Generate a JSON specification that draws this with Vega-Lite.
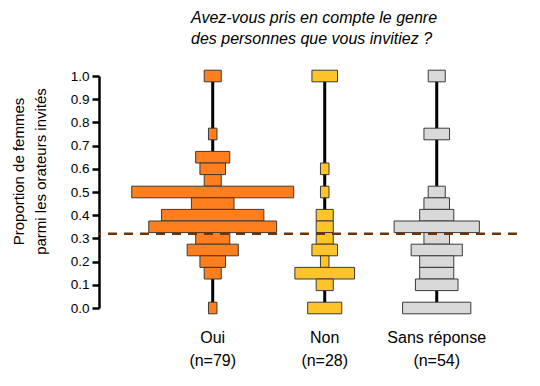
{
  "$schema": "https://vega.github.io/schema/vega-lite/v6.json",
  "autosize": "none",
  "width": 418,
  "height": 232,
  "padding": {"left": 99, "top": 76, "right": 23, "bottom": 78},
  "background": "white",
  "config": {
    "font": "Liberation Sans",
    "view": {"stroke": null}
  },
  "title": {
    "text": ["Avez-vous pris en compte le genre", "des personnes que vous invitiez ?"],
    "fontStyle": "italic",
    "fontWeight": "normal",
    "fontSize": 16,
    "lineHeight": 21.5,
    "color": "#000000",
    "anchor": "start",
    "frame": "group",
    "dx": 92,
    "offset": 22
  },
  "datasets": {
    "hist": [
      {"group": "Oui", "v": 1.0, "n": 2},
      {"group": "Oui", "v": 0.75, "n": 1},
      {"group": "Oui", "v": 0.65, "n": 4},
      {"group": "Oui", "v": 0.6, "n": 3},
      {"group": "Oui", "v": 0.55, "n": 2},
      {"group": "Oui", "v": 0.5, "n": 19},
      {"group": "Oui", "v": 0.45, "n": 5},
      {"group": "Oui", "v": 0.4, "n": 12},
      {"group": "Oui", "v": 0.35, "n": 15},
      {"group": "Oui", "v": 0.3, "n": 4},
      {"group": "Oui", "v": 0.25, "n": 6},
      {"group": "Oui", "v": 0.2, "n": 3},
      {"group": "Oui", "v": 0.15, "n": 2},
      {"group": "Oui", "v": 0.0, "n": 1},
      {"group": "Non", "v": 1.0, "n": 3},
      {"group": "Non", "v": 0.6, "n": 1},
      {"group": "Non", "v": 0.5, "n": 1},
      {"group": "Non", "v": 0.4, "n": 2},
      {"group": "Non", "v": 0.35, "n": 2},
      {"group": "Non", "v": 0.3, "n": 2},
      {"group": "Non", "v": 0.25, "n": 3},
      {"group": "Non", "v": 0.2, "n": 1},
      {"group": "Non", "v": 0.15, "n": 7},
      {"group": "Non", "v": 0.1, "n": 2},
      {"group": "Non", "v": 0.0, "n": 4},
      {"group": "Sans réponse", "v": 1.0, "n": 2},
      {"group": "Sans réponse", "v": 0.75, "n": 3},
      {"group": "Sans réponse", "v": 0.5, "n": 2},
      {"group": "Sans réponse", "v": 0.45, "n": 3},
      {"group": "Sans réponse", "v": 0.4, "n": 4},
      {"group": "Sans réponse", "v": 0.35, "n": 10},
      {"group": "Sans réponse", "v": 0.3, "n": 3},
      {"group": "Sans réponse", "v": 0.25, "n": 6},
      {"group": "Sans réponse", "v": 0.2, "n": 4},
      {"group": "Sans réponse", "v": 0.15, "n": 4},
      {"group": "Sans réponse", "v": 0.1, "n": 5},
      {"group": "Sans réponse", "v": 0.0, "n": 8}
    ],
    "ref": [{"prop": 0.32}]
  },
  "layer": [
    {
      "data": {"name": "hist"},
      "mark": {"type": "rule", "color": "#000000", "strokeWidth": 3},
      "encoding": {
        "x": {
          "field": "group",
          "type": "nominal",
          "sort": ["Oui", "Non", "Sans réponse"],
          "scale": {"domain": ["Oui", "Non", "Sans réponse"], "paddingInner": 0, "paddingOuter": 0.366, "align": 0.704},
          "axis": {
            "title": null,
            "domain": false,
            "ticks": false,
            "tickSize": 0,
            "labelAngle": 0,
            "labelFontSize": 16,
            "labelColor": "#000000",
            "labelPadding": 21,
            "labelBaseline": "top",
            "labelLineHeight": 23,
            "labelExpr": "datum.value === 'Oui' ? ['Oui', '(n=79)'] : datum.value === 'Non' ? ['Non', '(n=28)'] : ['Sans réponse', '(n=54)']"
          }
        },
        "y": {
          "aggregate": "min",
          "field": "v",
          "type": "quantitative",
          "scale": {"domain": [0, 1], "nice": false, "zero": false},
          "axis": {
            "title": ["Proportion de femmes", "parmi les orateurs invités"],
            "titleFontSize": 15,
            "titleFontWeight": "normal",
            "titleColor": "#000000",
            "titleLineHeight": 21.5,
            "titlePadding": 22,
            "titleY": 95,
            "values": [0, 0.1, 0.2, 0.3, 0.4, 0.5, 0.6, 0.7, 0.8, 0.9, 1.0],
            "tickCount": 11,
            "format": ".1f",
            "labelFontSize": 13.5,
            "labelColor": "#000000",
            "labelPadding": 3,
            "tickSize": 7,
            "tickWidth": 2.5,
            "tickColor": "#000000",
            "domainColor": "#000000",
            "domainWidth": 2.5,
            "grid": false,
            "labelFlush": false,
            "labelOverlap": false
          }
        },
        "y2": {"aggregate": "max", "field": "v"}
      }
    },
    {
      "data": {"name": "hist"},
      "mark": {"type": "tick", "orient": "horizontal", "thickness": 11.6, "stroke": "#3a3a3a", "strokeWidth": 1, "opacity": 1},
      "encoding": {
        "x": {"field": "group", "type": "nominal", "sort": ["Oui", "Non", "Sans réponse"]},
        "y": {
          "field": "v",
          "type": "quantitative",
          "axis": {
            "title": ["Proportion de femmes", "parmi les orateurs invités"],
            "values": [0, 0.1, 0.2, 0.3, 0.4, 0.5, 0.6, 0.7, 0.8, 0.9, 1.0],
            "tickCount": 11,
            "labelOverlap": false
          }
        },
        "size": {"field": "n", "type": "quantitative", "scale": {"type": "linear", "domain": [0, 19], "range": [0, 162]}, "legend": null},
        "fill": {
          "field": "group",
          "type": "nominal",
          "scale": {"domain": ["Oui", "Non", "Sans réponse"], "range": ["#ff7f1e", "#ffc42a", "#d9d9d9"]},
          "legend": null
        }
      }
    },
    {
      "data": {"name": "ref"},
      "mark": {"type": "rule", "color": "#6e3608", "strokeWidth": 2.5, "strokeDash": [9, 7]},
      "encoding": {
        "y": {
          "field": "prop",
          "type": "quantitative",
          "axis": {
            "title": ["Proportion de femmes", "parmi les orateurs invités"],
            "values": [0, 0.1, 0.2, 0.3, 0.4, 0.5, 0.6, 0.7, 0.8, 0.9, 1.0],
            "tickCount": 11,
            "labelOverlap": false
          }
        }
      }
    }
  ]
}
